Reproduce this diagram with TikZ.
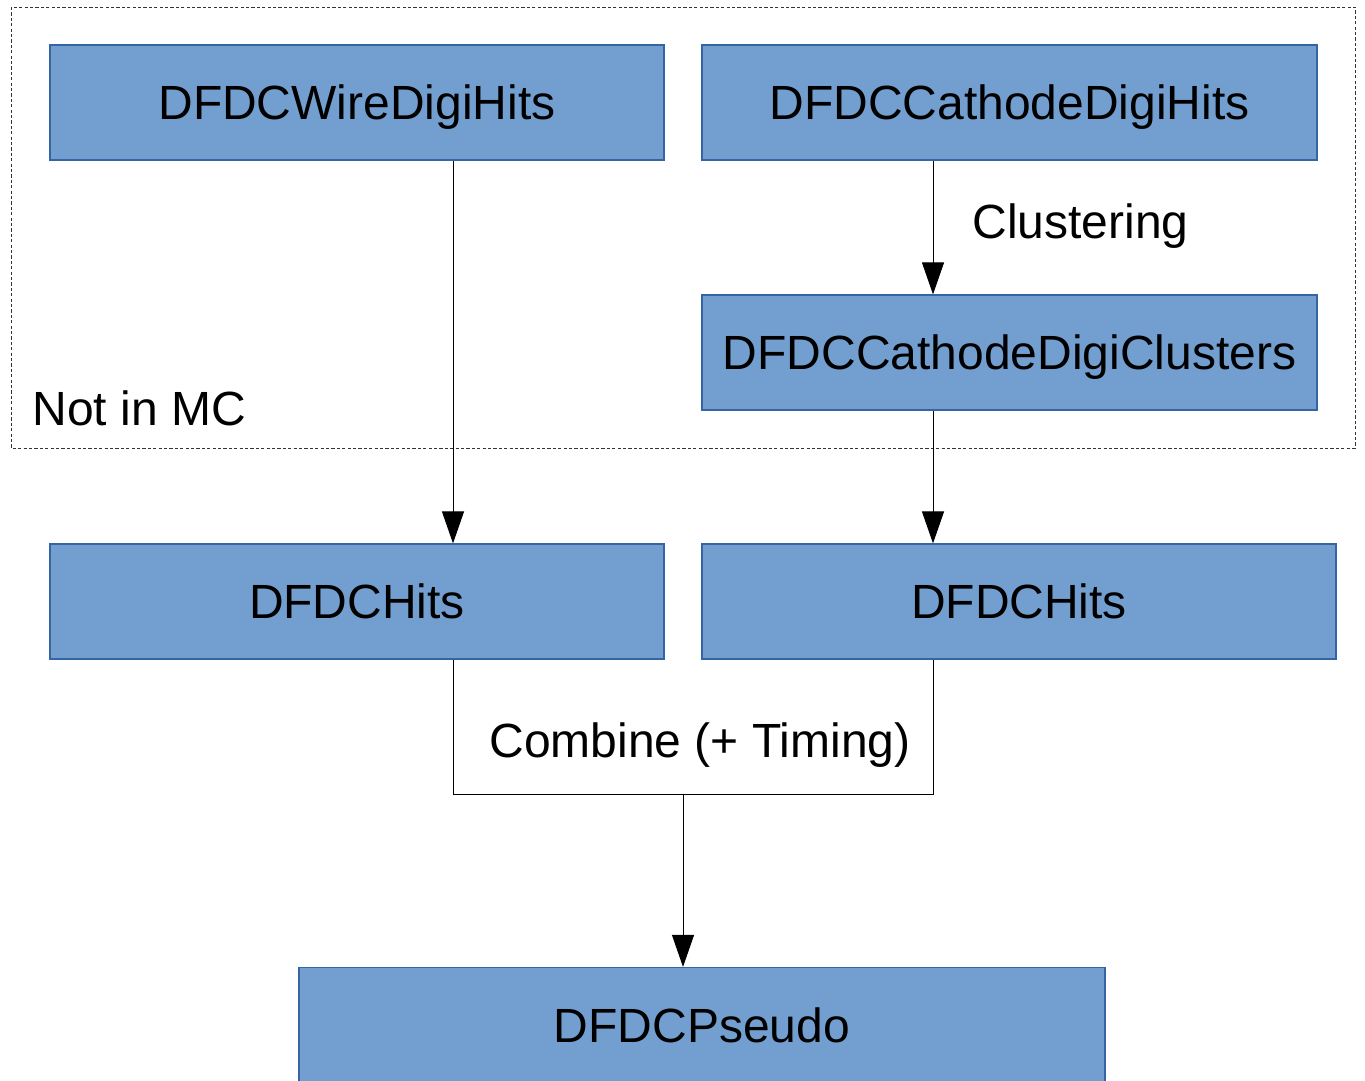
\documentclass[tikz,border=0pt]{standalone}
\usepackage{fontspec}
\setmainfont{Liberation Sans}
\usetikzlibrary{arrows.meta}
\definecolor{boxfill}{HTML}{729FCF}
\definecolor{boxline}{HTML}{3465A4}
\tikzset{
  bigtext/.style={font=\fontsize{24}{28}\selectfont, text height=17.2pt, text depth=0pt},
  blk/.style={draw=boxline, fill=boxfill, line width=0.6pt, inner sep=0pt,
    minimum height=57.5pt, bigtext},
  lbl/.style={inner sep=0pt, bigtext},
  conn/.style={line width=0.5pt, draw=black},
  arr/.style={conn, -{Triangle[length=16pt,width=11pt]}},
  region/.style={draw=black!80, line width=0.45pt, dash pattern=on 1.6pt off 1.1pt}
}
\begin{document}
\begin{tikzpicture}[x=0.5pt, y=-0.5pt]
  \useasboundingbox (0,0) rectangle (1365,1081);

  % region of objects that only exist for real data
  \draw[region] (11,7) rectangle (1355,448);
  \node[lbl, anchor=west] (notmc) at (32,408) {Not in MC};

  % data objects (text sits a little below the box centre)
  \begin{scope}[every node/.append style={text height=16.4pt}]
  \node[blk, minimum width=307pt] (wire) at (357,102.5) {DFDCWireDigiHits};
  \node[blk, minimum width=307.5pt] (cath) at (1009.5,102.5) {DFDCCathodeDigiHits};
  \node[blk, minimum width=307.5pt] (clus) at (1009.5,352.5) {DFDCCathodeDigiClusters};
  \node[blk, minimum width=307pt] (hitsL) at (357,601.5) {DFDCHits};
  \node[blk, minimum width=317pt] (hitsR) at (1019,601.5) {DFDCHits};
  \node[blk, minimum width=403pt] (pseudo) at (702,1025) {DFDCPseudo};
  \end{scope}

  % processing steps
  \node[lbl, anchor=west] (clustering) at (972,221) {Clustering};
  \node[lbl] (combine) at (700,740) {Combine (+ Timing)};

  \draw[arr] ([xshift=48pt]wire.south) -- ([xshift=48pt]hitsL.north);
  \draw[arr] ([xshift=-38.25pt]cath.south) -- ([xshift=-38.25pt]clus.north);
  \draw[arr] ([xshift=-38.25pt]clus.south) -- ([xshift=-43pt]hitsR.north);

  \coordinate (mergeL) at (453,794);
  \coordinate (mergeR) at (933,794);
  \coordinate (merge) at (683,794);
  \draw[conn] ([xshift=48pt]hitsL.south) -- (mergeL) -- (mergeR) -- ([xshift=-43pt]hitsR.south);
  \draw[arr] (merge) -- ([xshift=-9.5pt]pseudo.north);
\end{tikzpicture}
\end{document}
